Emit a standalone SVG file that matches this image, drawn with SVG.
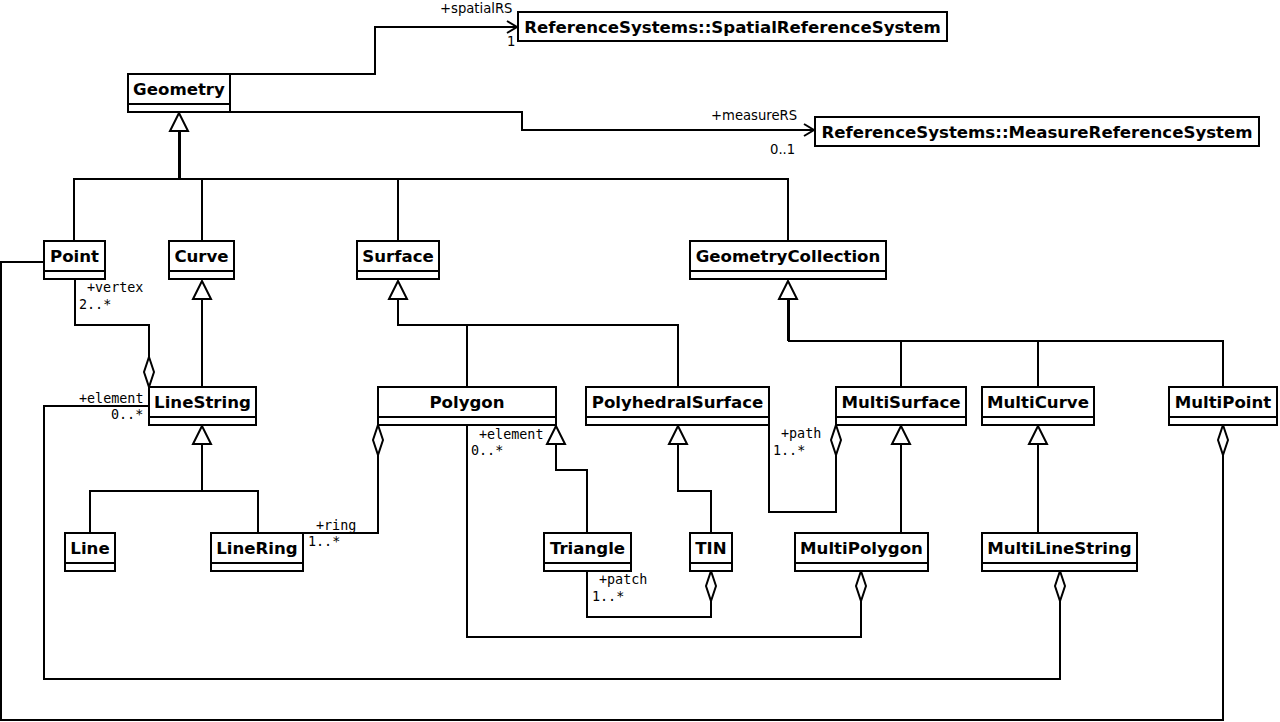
<svg xmlns="http://www.w3.org/2000/svg" width="1280" height="722" viewBox="0 0 1280 722">
<style>
.box{fill:#fff;stroke:#000;stroke-width:2}
.sep{stroke:#000;stroke-width:2}
.t{font-family:"DejaVu Sans",sans-serif;font-weight:bold;font-size:16.6px;text-anchor:middle;fill:#000}
.ln{fill:none;stroke:#000;stroke-width:2}
.thick{fill:none;stroke:#000;stroke-width:3}
.gen{fill:#fff;stroke:#000;stroke-width:2}
.m{font-family:"DejaVu Sans Mono",monospace;font-size:13.4px;fill:#000}
.p{font-family:"DejaVu Sans",sans-serif;font-size:13.2px;fill:#000}
</style>
<rect width="1280" height="722" fill="#fff"/>
<g id="connectors">
  <!-- associations -->
  <polyline class="ln" points="230,74 375,74 375,27 517,27"/>
  <polyline class="ln" points="507,21 517,27 507,33"/>
  <polyline class="ln" points="230,112 522,112 522,130 814,130"/>
  <polyline class="ln" points="804,124 814,130 804,136"/>
  <!-- generalization from Geometry -->
  <polyline class="thick" points="179.5,131 179.5,179"/>
  <polyline class="ln" points="74,241 74,179 788,179 788,241"/>
  <line class="ln" x1="202" y1="179" x2="202" y2="241"/>
  <line class="ln" x1="398" y1="179" x2="398" y2="241"/>
  <polygon class="gen" points="179,113 170,131 188,131"/>
  <!-- Curve <- LineString -->
  <line class="ln" x1="202" y1="299" x2="202" y2="387"/>
  <polygon class="gen" points="202,281 193,299 211,299"/>
  <!-- LineString <- Line, LineRing -->
  <polyline class="ln" points="202,444 202,491"/>
  <polyline class="ln" points="90,533 90,491 258,491 258,533"/>
  <polygon class="gen" points="202,426 193,444 211,444"/>
  <!-- Surface <- Polygon, PolyhedralSurface -->
  <polyline class="ln" points="398,299 398,325 678,325 678,387"/>
  <line class="ln" x1="467" y1="325" x2="467" y2="387"/>
  <polygon class="gen" points="398,281 389,299 407,299"/>
  <!-- GeometryCollection <- MultiSurface, MultiCurve, MultiPoint -->
  <polyline class="thick" points="788.5,299 788.5,341"/>
  <polyline class="ln" points="788,341 1223,341 1223,387"/>
  <line class="ln" x1="901" y1="341" x2="901" y2="387"/>
  <line class="ln" x1="1038" y1="341" x2="1038" y2="387"/>
  <polygon class="gen" points="788,281 779,299 797,299"/>
  <!-- Polygon <- Triangle -->
  <polyline class="ln" points="556,444 556,470 587,470 587,533"/>
  <polygon class="gen" points="556,426 547,444 565,444"/>
  <!-- PolyhedralSurface <- TIN -->
  <polyline class="ln" points="678,444 678,491 711,491 711,533"/>
  <polygon class="gen" points="678,426 669,444 687,444"/>
  <!-- MultiSurface <- MultiPolygon -->
  <line class="ln" x1="901" y1="444" x2="901" y2="533"/>
  <polygon class="gen" points="901,426 892,444 910,444"/>
  <!-- MultiCurve <- MultiLineString -->
  <line class="ln" x1="1038" y1="444" x2="1038" y2="533"/>
  <polygon class="gen" points="1038,426 1029,444 1047,444"/>
  <!-- aggregations -->
  <polyline class="ln" points="75,279 75,325 149,325 149,357"/>
  <polygon class="gen" points="149,357 154,372 149,387 144,372"/>
  <polyline class="ln" points="149,406 44,406 44,679 1060,679 1060,601"/>
  <polygon class="gen" points="1060,571 1065,586 1060,601 1055,586"/>
  <polyline class="ln" points="303,533 378,533 378,455"/>
  <polygon class="gen" points="378,425 383,440 378,455 373,440"/>
  <polyline class="ln" points="467,425 467,637 861,637 861,601"/>
  <polygon class="gen" points="861,571 866,586 861,601 856,586"/>
  <polyline class="ln" points="769,425 769,512 836,512 836,455"/>
  <polygon class="gen" points="836,425 841,440 836,455 831,440"/>
  <polyline class="ln" points="587,571 587,617 711,617 711,601"/>
  <polygon class="gen" points="711,571 716,586 711,601 706,586"/>
  <polyline class="ln" points="44,262 1,262 1,720 1223,720 1223,455"/>
  <polygon class="gen" points="1223,425 1228,440 1223,455 1218,440"/>
  <!-- labels -->
  <text class="p" x="440" y="13">+spatialRS</text>
  <text class="p" x="507" y="46">1</text>
  <text class="p" x="711" y="120">+measureRS</text>
  <text class="p" x="770" y="154">0..1</text>
  <text class="m" x="87" y="292">+vertex</text>
  <text class="m" x="79" y="309">2..*</text>
  <text class="m" x="79" y="403">+element</text>
  <text class="m" x="111" y="419">0..*</text>
  <text class="m" x="316" y="530">+ring</text>
  <text class="m" x="308" y="546">1..*</text>
  <text class="m" x="479" y="439">+element</text>
  <text class="m" x="471" y="455">0..*</text>
  <text class="m" x="781" y="438">+path</text>
  <text class="m" x="773" y="455">1..*</text>
  <text class="m" x="599" y="584">+patch</text>
  <text class="m" x="592" y="601">1..*</text>
</g>
<g id="SpatialReferenceSystem"><rect class="box" x="518" y="12" width="429" height="29"/><text class="t" x="732.5" y="33">ReferenceSystems::SpatialReferenceSystem</text></g>
<g id="MeasureReferenceSystem"><rect class="box" x="815" y="117" width="444" height="29"/><text class="t" x="1037" y="138">ReferenceSystems::MeasureReferenceSystem</text></g>
<g id="Geometry"><rect class="box" x="128" y="74" width="102" height="38"/><line class="sep" x1="128" y1="104" x2="230" y2="104"/><text class="t" x="179" y="95">Geometry</text></g>
<g id="Point"><rect class="box" x="44" y="241" width="61" height="38"/><line class="sep" x1="44" y1="271" x2="105" y2="271"/><text class="t" x="74.5" y="262">Point</text></g>
<g id="Curve"><rect class="box" x="169" y="241" width="65" height="38"/><line class="sep" x1="169" y1="271" x2="234" y2="271"/><text class="t" x="201.5" y="262">Curve</text></g>
<g id="Surface"><rect class="box" x="357" y="241" width="82" height="38"/><line class="sep" x1="357" y1="271" x2="439" y2="271"/><text class="t" x="398" y="262">Surface</text></g>
<g id="GeometryCollection"><rect class="box" x="690" y="241" width="196" height="38"/><line class="sep" x1="690" y1="271" x2="886" y2="271"/><text class="t" x="788" y="262">GeometryCollection</text></g>
<g id="LineString"><rect class="box" x="149" y="387" width="107" height="38"/><line class="sep" x1="149" y1="417" x2="256" y2="417"/><text class="t" x="202.5" y="408">LineString</text></g>
<g id="Polygon"><rect class="box" x="378" y="387" width="178" height="38"/><line class="sep" x1="378" y1="417" x2="556" y2="417"/><text class="t" x="467" y="408">Polygon</text></g>
<g id="PolyhedralSurface"><rect class="box" x="586" y="387" width="183" height="38"/><line class="sep" x1="586" y1="417" x2="769" y2="417"/><text class="t" x="677.5" y="408">PolyhedralSurface</text></g>
<g id="MultiSurface"><rect class="box" x="836" y="387" width="130" height="38"/><line class="sep" x1="836" y1="417" x2="966" y2="417"/><text class="t" x="901" y="408">MultiSurface</text></g>
<g id="MultiCurve"><rect class="box" x="982" y="387" width="112" height="38"/><line class="sep" x1="982" y1="417" x2="1094" y2="417"/><text class="t" x="1038" y="408">MultiCurve</text></g>
<g id="MultiPoint"><rect class="box" x="1169" y="387" width="108" height="38"/><line class="sep" x1="1169" y1="417" x2="1277" y2="417"/><text class="t" x="1223" y="408">MultiPoint</text></g>
<g id="Line"><rect class="box" x="65" y="533" width="50" height="38"/><line class="sep" x1="65" y1="563" x2="115" y2="563"/><text class="t" x="90" y="554">Line</text></g>
<g id="LineRing"><rect class="box" x="211" y="533" width="92" height="38"/><line class="sep" x1="211" y1="563" x2="303" y2="563"/><text class="t" x="257" y="554">LineRing</text></g>
<g id="Triangle"><rect class="box" x="544" y="533" width="87" height="38"/><line class="sep" x1="544" y1="563" x2="631" y2="563"/><text class="t" x="587.5" y="554">Triangle</text></g>
<g id="TIN"><rect class="box" x="690" y="533" width="42" height="38"/><line class="sep" x1="690" y1="563" x2="732" y2="563"/><text class="t" x="711" y="554">TIN</text></g>
<g id="MultiPolygon"><rect class="box" x="795" y="533" width="133" height="38"/><line class="sep" x1="795" y1="563" x2="928" y2="563"/><text class="t" x="861.5" y="554">MultiPolygon</text></g>
<g id="MultiLineString"><rect class="box" x="982" y="533" width="155" height="38"/><line class="sep" x1="982" y1="563" x2="1137" y2="563"/><text class="t" x="1059.5" y="554">MultiLineString</text></g>
</svg>
